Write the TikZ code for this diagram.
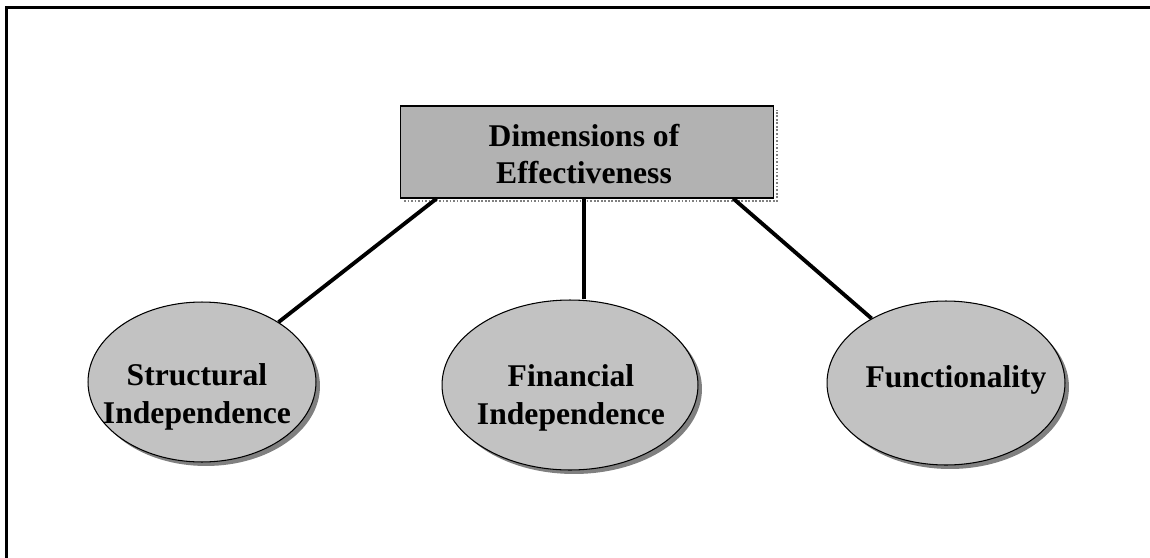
\documentclass[tikz,border=0pt]{standalone}
\usepackage{fontspec}
\setmainfont{Liberation Serif}
\usetikzlibrary{shapes.geometric,calc}
\definecolor{boxgray}{gray}{0.70}
\definecolor{ovalgray}{gray}{0.76}
\definecolor{shadegray}{gray}{0.50}
\begin{document}
\begin{tikzpicture}[x=0.02cm,y=-0.02cm,
  caption/.style={font=\bfseries\fontsize{18}{21.5}\selectfont, align=center, inner sep=0pt},
  headbox/.style={rectangle, draw=black, line width=0.6pt, fill=boxgray, inner sep=0pt,
                  minimum width=7.48cm, minimum height=1.84cm},
  oval/.style={ellipse, draw=black, line width=0.6pt, fill=ovalgray, inner sep=0pt},
  link/.style={line width=2.2pt, black},
  frameline/.style={line width=1.15pt, black}]
\useasboundingbox (0,0) rectangle (1150,558);

% page frame (top and left edges only)
\draw[frameline] (6.5,558) -- (6.5,7.5) -- (1150,7.5);

% soft shadows
\draw[densely dotted, gray, line width=1pt] (404,201) -- (777,201) -- (777,110);
\fill[shadegray] (206,386) ellipse [x radius=2.28cm, y radius=1.60cm];
\fill[shadegray] (574,389) ellipse [x radius=2.56cm, y radius=1.70cm];
\fill[shadegray] (950,387) ellipse [x radius=2.38cm, y radius=1.64cm];

% head box and ovals
\node[headbox] (top) at (587,152) {};
\node[oval, minimum width=4.56cm, minimum height=3.20cm] (L) at (202,382) {};
\node[oval, minimum width=5.12cm, minimum height=3.40cm] (M) at (570,385) {};
\node[oval, minimum width=4.76cm, minimum height=3.28cm] (R) at (946,383) {};

% captions
\node[caption] (topt) at (584,154) {Dimensions of\\Effectiveness};
\node[caption] (Lt) at (197,397) {Structural\\Independence};
\node[caption] (Mt) at (571,398) {Financial\\Independence};
\node[caption] (Rt) at (956,380) {Functionality};

% connectors
\coordinate (s1) at ($(top.south west)!0.099!(top.south east)$);
\coordinate (s2) at ($(top.south west)!0.492!(top.south east)$);
\coordinate (s3) at ($(top.south west)!0.89!(top.south east)$);
\draw[link] (s1) -- (L);
\draw[link] (s2) -- (s2 |- M.north);
\draw[link] (s3) -- (R);
\end{tikzpicture}
\end{document}
